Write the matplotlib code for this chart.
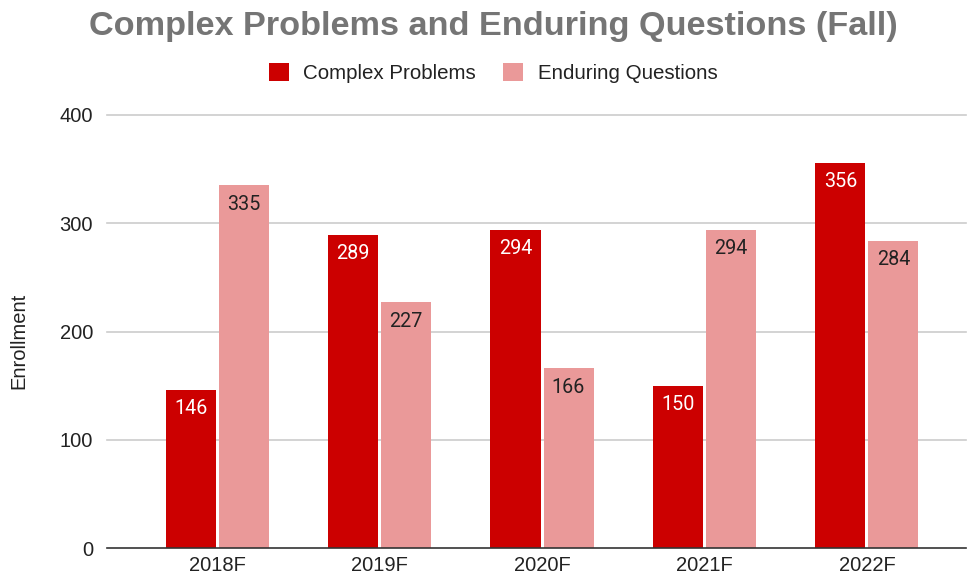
import matplotlib
matplotlib.use("Agg")
import matplotlib.pyplot as plt
import numpy as np
from matplotlib.patches import Patch

categories = ["2018F", "2019F", "2020F", "2021F", "2022F"]
complex_problems = [146, 289, 294, 150, 356]
enduring_questions = [335, 227, 166, 294, 284]
yticks = [0, 100, 200, 300, 400]

W, H = 967, 580
fig = plt.figure(figsize=(W / 100, H / 100), dpi=100)
ax = fig.add_axes([107 / W, 1 - 548 / H, (966 - 107) / W, (548 - 115) / H])

c1 = "#cc0000"
c2 = "#ea9999"
x = np.arange(len(categories))
bw = 0.308
gap = 0.0185
b1 = ax.bar(x - bw / 2 - gap / 2, complex_problems, bw, color=c1, zorder=3)
b2 = ax.bar(x + bw / 2 + gap / 2, enduring_questions, bw, color=c2, zorder=3)

for rect, v in zip(b1, complex_problems):
    ax.annotate(str(v), (rect.get_x() + rect.get_width() / 2, v), xytext=(0, -13.5),
                textcoords="offset points", ha="center", va="center",
                color="white", fontsize=14.2, family="Roboto", zorder=4)
for rect, v in zip(b2, enduring_questions):
    ax.annotate(str(v), (rect.get_x() + rect.get_width() / 2, v), xytext=(0, -13.5),
                textcoords="offset points", ha="center", va="center",
                color="#222222", fontsize=14.2, family="Roboto", zorder=4)

ax.set_xlim(-0.678, 4.61)
ax.set_ylim(0, 400)
ax.set_yticks(yticks)
ax.set_yticklabels([str(t) for t in yticks], family="Liberation Sans", fontsize=14.5, color="#222222")
ax.set_xticks(x)
ax.set_xticklabels(categories, family="Liberation Sans", fontsize=14.5, color="#222222")
ax.tick_params(length=0, pad=6)
ax.tick_params(axis="y", pad=10)
for y in yticks[1:]:
    ax.axhline(y, color="#cccccc", lw=1.2, zorder=1, clip_on=False)
for s in ["top", "right", "left"]:
    ax.spines[s].set_visible(False)
ax.spines["bottom"].set_color("#333333")
ax.spines["bottom"].set_linewidth(1.2)
ax.spines["bottom"].set_zorder(5)

fig.text(19 / W, 1 - 341 / H, "Enrollment", rotation=90, ha="center", va="center",
         family="Liberation Sans", fontsize=14.5, color="#222222")

fig.text(493 / W, 1 - 26 / H, "Complex Problems and Enduring Questions (Fall)",
         ha="center", va="center", family="Liberation Sans", fontweight="bold",
         fontsize=24.7, color="#757575")

handles = [Patch(facecolor=c1, edgecolor="none"), Patch(facecolor=c2, edgecolor="none")]
fig.legend(handles, ["Complex Problems", "Enduring Questions"], loc="center",
           bbox_to_anchor=(493 / W, 1 - 73 / H), ncol=2, frameon=False,
           prop={"family": "Liberation Sans", "size": 14.8},
           handlelength=0.97, handleheight=0.97, handletextpad=0.72, columnspacing=1.3,
           labelcolor="#222222")

fig.savefig("out.png", dpi=100)
